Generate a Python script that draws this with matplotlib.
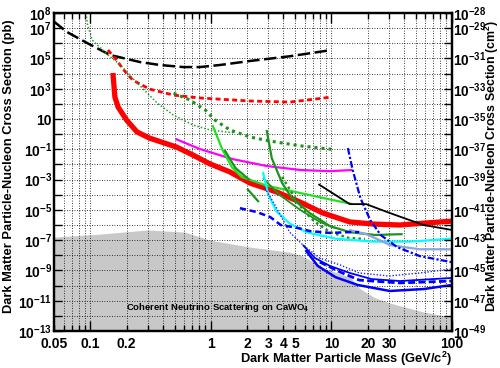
import numpy as np
import matplotlib
matplotlib.use("Agg")
import matplotlib.pyplot as plt
from matplotlib.ticker import FixedLocator, FixedFormatter, NullFormatter

plt.rcParams['font.family'] = ['Liberation Sans', 'DejaVu Sans']
plt.rcParams['font.weight'] = 'bold'
plt.rcParams['mathtext.fontset'] = 'custom'
plt.rcParams['mathtext.rm'] = 'Liberation Sans:bold'
plt.rcParams['mathtext.it'] = 'Liberation Sans:bold'
plt.rcParams['mathtext.bf'] = 'Liberation Sans:bold'
plt.rcParams['mathtext.default'] = 'rm'

# ---------------- data (mass in GeV/c^2, cross section in pb) ----------------
floor_m = [0.05, 0.12, 0.295, 0.61, 0.98, 2.11, 4.53, 5.8, 8.5, 14.2, 15, 17, 22.5, 30.5, 58, 100]
floor_s = [1.6e-7, 2.5e-7, 4.7e-7, 3.4e-7, 1e-7, 3.5e-8, 1.6e-8, 8.9e-9, 1.45e-9, 3.6e-10, 2.3e-10,
           6.8e-11, 1.7e-11, 7e-12, 1.8e-12, 8.3e-13]

blackdash_m = [0.05, 0.064, 0.094, 0.146, 0.258, 0.378, 0.59, 0.81, 1.19, 2.11, 4.53, 10.0]
blackdash_s = [2.7e7, 5.6e6, 1.05e6, 1.7e5, 5.8e4, 3.7e4, 2.7e4, 2.7e4, 3.7e4, 6.8e4, 1.4e5, 3.6e5]

reddash_m = [0.14, 0.16, 0.19, 0.225, 0.31, 0.49, 0.81, 2.11, 4.53, 10.0]
reddash_s = [3.6e5, 1.07e5, 1.7e4, 3.7e3, 950, 380, 245, 155, 132, 280]

redthick_m = [0.154, 0.16, 0.17, 0.20, 0.244, 0.31, 0.52, 0.71, 0.98, 1.44, 2.11, 3.53, 5.48, 8.5,
              14.2, 22.7, 37, 60, 100]
redthick_s = [1.1e4, 280, 62, 8.5, 1.4, 0.55, 0.14, 0.042, 0.011, 3.2e-3, 5.9e-4, 1.5e-4, 3.3e-5,
              6.2e-6, 1.6e-6, 1.15e-6, 1.0e-6, 1.35e-6, 1.8e-6]

gdotthin_m = [0.092, 0.095, 0.104, 0.14, 0.176, 0.245, 0.36, 0.49, 0.71, 0.98, 1.58]
gdotthin_s = [1e8, 1.6e7, 1.6e6, 1.7e5, 4e4, 2.4e3, 110, 18, 4, 1.9, 1.2]

gdotthick_m = [0.49, 0.67, 0.9, 1.08, 1.44, 2.11, 3.1, 5.5, 10]
gdotthick_s = [510, 180, 39, 8.5, 1.9, 0.65, 0.35, 0.17, 0.1]

magenta_m = [0.51, 0.81, 1.5, 2.9, 5.5, 9.7, 15]
magenta_s = [0.48, 0.105, 0.023, 7.9e-3, 4.3e-3, 3.6e-3, 4.3e-3]

bgreen_m = [1.03, 1.25, 1.5, 1.8, 2.9, 5.5, 10.2, 15]
bgreen_s = [4, 0.09, 6.3e-3, 1.5e-3, 4e-4, 1.3e-4, 4.5e-5, 2.4e-5]

dgreenA_m = [2.9, 3.2, 3.9, 4.7, 6.6, 9.7, 14.2, 23, 39]
dgreenA_s = [1.9, 0.026, 5.9e-4, 6e-5, 6.2e-6, 8.5e-7, 3.4e-7, 2.2e-7, 2.5e-7]

dgreenB_m = [1.3, 1.6, 2.1]
dgreenB_s = [0.09, 5.8e-3, 9.3e-4]

dgreenC_m = [2.0, 2.5]
dgreenC_s = [2.5e-4, 3.3e-5]

dgreenE_m = [2.7, 3.7, 5.5, 8, 10.7]
dgreenE_s = [1.26e-3, 1e-4, 1e-5, 1.6e-6, 6.3e-7]

dgreendot_m = [3.9, 4.7, 5.8, 7.3, 9.7, 14, 19]
dgreendot_s = [1.5e-3, 1.3e-4, 9.8e-6, 1.6e-6, 3.4e-7, 1.4e-7, 1.2e-7]

cyan_m = [2.7, 3.0, 3.5, 4.5, 6.3, 10.8, 22, 45, 100]
cyan_s = [3.2e-3, 1e-4, 8e-6, 1.26e-6, 3.2e-7, 1.26e-7, 8e-8, 8e-8, 1.26e-7]

lblue_m = [14, 19.5, 30.5, 54, 100]
lblue_s = [4.7e-7, 2.5e-7, 4.8e-8, 2.5e-8, 2.5e-8]

bdashdot_m = [13.7, 15, 17.4, 21, 25.6, 35, 54, 100]
bdashdot_s = [0.12, 4.3e-3, 6e-5, 2.1e-6, 2.2e-7, 3.5e-8, 8.9e-9, 3.5e-9]

bdash_m = [1.74, 2.4, 3.1, 3.8, 5.3, 6.6, 9.7, 14.2, 17]
bdash_s = [1.3e-5, 7.2e-6, 3.4e-6, 1e-6, 6.3e-7, 4e-7, 3e-7, 3.4e-7, 3.4e-7]

bdot_m = [2.8, 3.4, 4.5, 5.8, 8, 11.8, 17, 30, 54, 100]
bdot_s = [2.8e-4, 2.1e-5, 3.4e-7, 4.8e-8, 6.6e-9, 2.3e-9, 6.8e-10, 4.3e-10, 6.8e-10, 1.26e-9]

bsolA_m = [5.8, 7.3, 9.7, 14.2, 21.5, 37, 100]
bsolA_s = [4.8e-8, 6.6e-9, 2e-9, 6.8e-10, 2.7e-10, 2e-10, 3.2e-10]

bdashB_m = [8, 11.8, 17, 37, 100]
bdashB_s = [3.6e-9, 7.9e-10, 2.3e-10, 1.5e-10, 2e-10]

bsolC_m = [6.1, 7.7, 10.8, 16.5, 30.5, 58, 100]
bsolC_s = [2.2e-8, 2e-9, 3.6e-10, 1.1e-10, 4.4e-11, 5.9e-11, 1.1e-10]

blacksol_m = [7.8, 14.2, 19.4, 30.5, 58, 100]
blacksol_s = [5e-4, 2.4e-5, 2.4e-5, 6.2e-6, 1e-6, 4.7e-7]

xtick_major = [0.1, 1, 10, 100]
xtick_major_labels = ['0.1', '1', '10', '100']
xtick_minor = [0.05, 0.06, 0.07, 0.08, 0.09, 0.2, 0.3, 0.4, 0.5, 0.6, 0.7, 0.8, 0.9,
               2, 3, 4, 5, 6, 7, 8, 9, 20, 30, 40, 50, 60, 70, 80, 90]
xtick_minor_labels = ['0.05', '', '', '', '', '0.2', '', '', '', '', '', '', '',
                      '2', '3', '4', '5', '', '', '', '', '20', '30', '', '', '', '', '', '']
yleft_exps = list(range(-13, 9))
yleft_labeled = [8, 7, 5, 3, 1, -1, -3, -5, -7, -9, -11, -13]
yright_exps = list(range(-49, -27))
yright_labeled = [-28, -29, -31, -33, -35, -37, -39, -41, -43, -45, -47, -49]

# ---------------- figure ----------------
fig = plt.figure(figsize=(5.0, 3.68), dpi=100)
ax = fig.add_axes([0.108, 0.1005, 0.796, 0.8641])
ax.set_xscale('log')
ax.set_yscale('log')
ax.set_xlim(0.05, 100)
ax.set_ylim(1e-13, 1e8)

ax.fill_between(floor_m, 1e-14, floor_s, color='#c8c8c8', lw=0, zorder=1)

def L(m, s, **kw):
    ax.plot(m, s, zorder=3, solid_capstyle='butt', **kw)

L(blackdash_m, blackdash_s, color='black', lw=1.8, ls=(0, (5, 1.8)))
L(reddash_m, reddash_s, color='#ff0000', lw=2.0, ls=(0, (1.8, 1.2)))
L(gdotthin_m, gdotthin_s, color='#2a9a2a', lw=1.1, ls=(0, (1, 1.3)))
L(gdotthick_m, gdotthick_s, color='#1f901f', lw=2.2, ls=(0, (1, 1.3)))
L(magenta_m, magenta_s, color='#ff00ff', lw=1.6)
L(redthick_m, redthick_s, color='#ff0000', lw=3.8)
L(bgreen_m, bgreen_s, color='#22e022', lw=1.6)
L(dgreenA_m, dgreenA_s, color='#1a951a', lw=1.6)
L(dgreenB_m, dgreenB_s, color='#1a951a', lw=1.6)
L(dgreenC_m, dgreenC_s, color='#1a951a', lw=1.6)
L(dgreenE_m, dgreenE_s, color='#1a951a', lw=1.3)
L(dgreendot_m, dgreendot_s, color='#1a951a', lw=1.8, ls=(0, (1, 1.3)))
L(cyan_m, cyan_s, color='#00ffff', lw=1.6)
L(lblue_m, lblue_s, color='#8aa6dc', lw=1.6)
L(bdashdot_m, bdashdot_s, color='#0000ff', lw=1.6, ls=(0, (3, 1, 1, 1)))
L(bdash_m, bdash_s, color='#0000ff', lw=1.8, ls=(0, (2.5, 1.5)))
L(bdot_m, bdot_s, color='#2020ff', lw=1.0, ls=(0, (1, 1.3)))
L(bsolA_m, bsolA_s, color='#0000ff', lw=1.3)
L(bdashB_m, bdashB_s, color='#0000ff', lw=2.0, ls=(0, (2.5, 1.2)))
L(bsolC_m, bsolC_s, color='#0000ff', lw=1.8)
L(blacksol_m, blacksol_s, color='black', lw=1.3)

ax.text(0.181, 0.075, 'Coherent Neutrino Scattering on CaWO$_4$', transform=ax.transAxes,
        fontsize=6.8, fontweight='bold', va='center', ha='left', zorder=4)

# x ticks
ax.xaxis.set_major_locator(FixedLocator(xtick_major))
ax.xaxis.set_major_formatter(FixedFormatter(xtick_major_labels))
ax.xaxis.set_minor_locator(FixedLocator(xtick_minor))
ax.xaxis.set_minor_formatter(FixedFormatter(xtick_minor_labels))

def ylab(e):
    if e == 1:
        return '10'
    if e == 0:
        return '1'
    return r'$10^{%d}$' % e

ax.yaxis.set_major_locator(FixedLocator([10.0 ** e for e in yleft_exps]))
ax.yaxis.set_major_formatter(FixedFormatter([ylab(e) if e in yleft_labeled else '' for e in yleft_exps]))
ax.yaxis.set_minor_locator(FixedLocator([]))
ax.yaxis.set_minor_formatter(NullFormatter())

ax.tick_params(axis='both', which='both', direction='in', labelsize=10, width=1.0,
               top=True, right=False, colors='black')
ax.tick_params(axis='x', which='major', length=7, pad=4)
ax.tick_params(axis='x', which='minor', length=4, pad=4)
ax.tick_params(axis='y', which='major', length=6, pad=1.5)

ax.grid(True, which='both', axis='x', ls=(0, (1, 2)), color='black', lw=0.6)
ax.grid(True, which='major', axis='y', ls=(0, (1, 2)), color='black', lw=0.6)
ax.set_axisbelow(False)

for sp in ax.spines.values():
    sp.set_linewidth(1.6)

ax2 = ax.twinx()
ax2.set_yscale('log')
ax2.set_ylim(1e-49, 1e-28)
ax2.yaxis.set_major_locator(FixedLocator([10.0 ** e for e in yright_exps]))
ax2.yaxis.set_major_formatter(FixedFormatter([r'$10^{%d}$' % e if e in yright_labeled else '' for e in yright_exps]))
ax2.yaxis.set_minor_locator(FixedLocator([]))
ax2.tick_params(axis='y', which='major', direction='in', length=6, width=1.0, labelsize=9.8, pad=0.5)
for sp in ax2.spines.values():
    sp.set_linewidth(1.6)

fig.text(0.018, 0.549, 'Dark Matter Particle-Nucleon Cross Section (pb)', rotation=90,
         ha='center', va='center', fontsize=9.3, fontweight='bold')
fig.text(0.984, 0.55, 'Dark Matter Particle-Nucleon Cross Section (cm$^2$)', rotation=90,
         ha='center', va='center', fontsize=8.9, fontweight='bold')
fig.text(0.904, 0.026, 'Dark Matter Particle Mass (GeV/c$^2$)', ha='right', va='center',
         fontsize=9.3, fontweight='bold')

fig.savefig('out.png', dpi=100)
